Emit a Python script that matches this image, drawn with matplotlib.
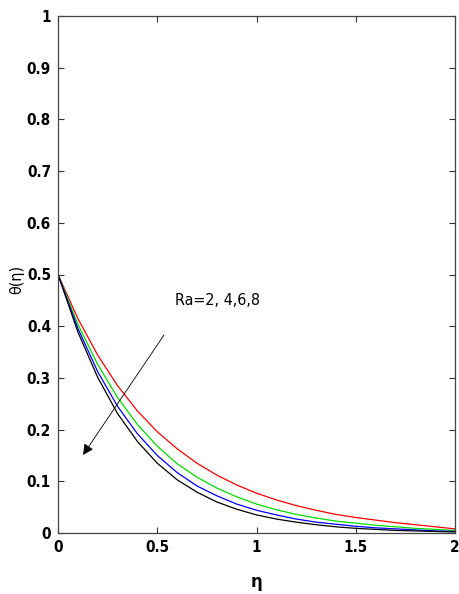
import numpy as np
import matplotlib
matplotlib.use("Agg")
import matplotlib.pyplot as plt

# eta grid and theta profiles (Ra = 2, 4, 6, 8)
eta = [0.0, 0.1, 0.2, 0.3, 0.4, 0.5, 0.6, 0.7, 0.8, 0.9, 1.0,
       1.1, 1.2, 1.3, 1.4, 1.5, 1.6, 1.7, 1.8, 1.9, 2.0]
theta_ra2 = [0.5, 0.415, 0.344, 0.285, 0.236, 0.196, 0.163, 0.135, 0.112, 0.093, 0.077,
             0.064, 0.053, 0.044, 0.036, 0.030, 0.025, 0.020, 0.016, 0.012, 0.008]
theta_ra4 = [0.5, 0.404, 0.326, 0.262, 0.210, 0.168, 0.134, 0.108, 0.087, 0.070, 0.056,
             0.045, 0.036, 0.029, 0.023, 0.019, 0.015, 0.012, 0.009, 0.007, 0.005]
theta_ra6 = [0.5, 0.396, 0.312, 0.245, 0.192, 0.150, 0.117, 0.091, 0.072, 0.056, 0.044,
             0.035, 0.027, 0.021, 0.017, 0.013, 0.010, 0.008, 0.006, 0.004, 0.003]
theta_ra8 = [0.5, 0.389, 0.301, 0.231, 0.177, 0.135, 0.103, 0.079, 0.060, 0.046, 0.035,
             0.027, 0.021, 0.016, 0.012, 0.009, 0.007, 0.005, 0.004, 0.003, 0.002]
colors = ['red', '#00dd00', 'blue', 'black']

fig = plt.figure(figsize=(4.59, 5.94), dpi=100)
ax = fig.add_axes([58 / 459, 1 - 533 / 594, (455 - 58) / 459, (533 - 16) / 594])

for th, c in zip([theta_ra2, theta_ra4, theta_ra6, theta_ra8], colors):
    ax.plot(eta, th, color=c, lw=0.9)

ax.set_xlim(0, 2)
ax.set_ylim(0, 1)
ax.set_xticks([0, 0.5, 1, 1.5, 2])
ax.set_xticklabels(['0', '0.5', '1', '1.5', '2'])
ax.set_yticks(np.arange(0, 1.01, 0.1))
ax.set_yticklabels(['0', '0.1', '0.2', '0.3', '0.4', '0.5', '0.6', '0.7', '0.8', '0.9', '1'])
ax.tick_params(direction='in', top=True, right=True, length=4, width=0.8,
               color='#333333', pad=5)
for lab in ax.get_xticklabels() + ax.get_yticklabels():
    lab.set_family('DejaVu Sans')
    lab.set_stretch('condensed')
    lab.set_fontweight('bold')
    lab.set_fontsize(11)
for s in ax.spines.values():
    s.set_color('#444444')
    s.set_linewidth(0.9)

ax.set_xlabel('η', fontweight='bold', fontsize=12)
ax.xaxis.set_label_coords(0.5, -0.078)
ax.set_ylabel('θ(η)', fontsize=11.5, stretch='condensed')
ax.yaxis.set_label_coords(-0.085, 0.49)

# arrow with annotation
ax.annotate('', xy=(0.126, 0.151), xytext=(0.534, 0.383),
            arrowprops=dict(arrowstyle='-|>', color='black', lw=0.6,
                            mutation_scale=16, shrinkA=0, shrinkB=0))
ax.text(0.59, 0.45, 'Ra=2, 4,6,8', fontsize=11.5, stretch='condensed',
        va='center', ha='left')

fig.savefig('out.png', dpi=100)
